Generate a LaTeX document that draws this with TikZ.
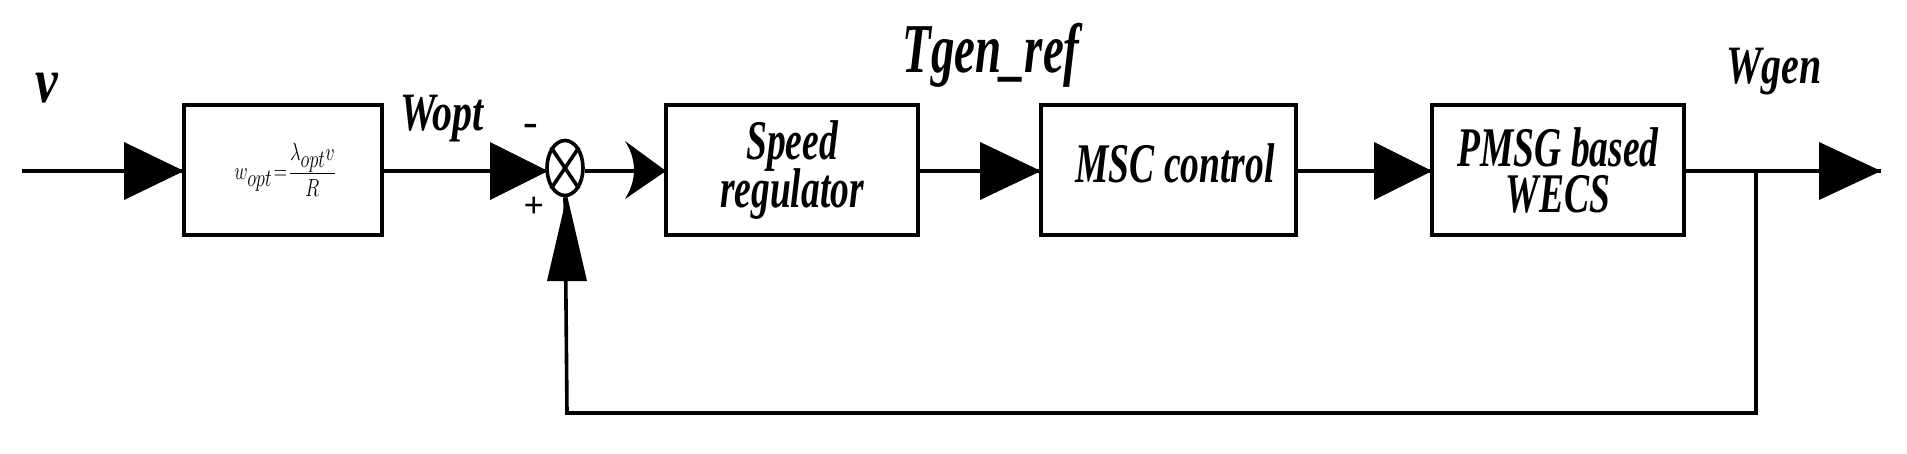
\documentclass[tikz,border=0pt]{standalone}
\usepackage{fontspec}
\setmainfont{Liberation Serif}
\usetikzlibrary{shapes.geometric}
\begin{document}
\begin{tikzpicture}[x=1pt,y=-1pt,line width=3.6pt,
  blk/.style={draw,line width=4pt,inner sep=0,minimum height=130pt,align=center,
    font=\fontsize{56}{50}\selectfont\bfseries\itshape},
  lbl/.style={inner sep=0,font=\bfseries\itshape},
  tri/.style={fill=black,draw=none}]
\useasboundingbox (0,0) rectangle (1907,453);
% blocks
\node[blk,minimum width=198pt] (b1) at (283,170) {};
\node[blk,minimum width=252pt] (b2) at (792,170) {\scalebox{0.67}[1]{Speed}\\[-4pt]\scalebox{0.67}[1]{regulator}};
\node[blk,minimum width=255pt] (b3) at (1168,170) {};
\node[blk,minimum width=252pt] (b4) at (1558,170) {\scalebox{0.67}[1]{PMSG based}\\[-4pt]\scalebox{0.67}[1]{WECS}};
\node[lbl,font=\fontsize{56}{56}\selectfont\bfseries\itshape] (t3) at (1175,163) {\scalebox{0.67}[1]{MSC control}};
\node[inner sep=0,font=\fontsize{44}{44}\selectfont] (f) at (285,170)
  {\scalebox{0.74}[1]{$\displaystyle w_{opt}\!=\!\frac{\lambda_{opt}v}{R}$}};
% sum
\node[draw,ellipse,line width=3.6pt,minimum width=36pt,minimum height=55pt,inner sep=0] (s) at (565,168) {};
\draw (s.north west) -- (s.south east) (s.north east) -- (s.south west);
% coordinates
\coordinate (in) at (22,171);
\coordinate (out) at (1881,171);
\coordinate (br) at (1756,171);
\coordinate (bl) at (1756,413);
\coordinate (bs) at (567,413);
% lines
\draw (in) -- (b1.west|-in);
\draw (b1.east|-in) -- (s.west|-in);
\draw (s.east|-in) -- (b2.west|-in);
\draw (b2.east|-in) -- (b3.west|-in);
\draw (b3.east|-in) -- (b4.west|-in);
\draw (b4.east|-in) -- (out);
\draw (br) -- (bl) -- (bs) -- (s.south);
% arrowheads
\fill[tri] (124,142) -- (184,171) -- (124,200) -- cycle;
\fill[tri] (490,142) -- (548,171) -- (490,200) -- cycle;
\fill[tri] (625,141) -- (666,171) -- (625,199) .. controls (637,180) and (637,160) .. (625,141) -- cycle;
\fill[tri] (980,142) -- (1041,171) -- (980,200) -- cycle;
\fill[tri] (1374,142) -- (1432,171) -- (1374,200) -- cycle;
\fill[tri] (1819,142) -- (1881,171) -- (1819,200) -- cycle;
\fill[tri] (547,281) -- (567,195) -- (587,281) -- cycle;
% labels
\node[lbl,font=\fontsize{64}{64}\selectfont\bfseries\itshape] (lv) at (47,88) {\scalebox{0.8}[1]{v}};
\node[lbl,font=\fontsize{54}{54}\selectfont\bfseries\itshape] (lw) at (442,119) {\scalebox{0.74}[1]{Wopt}};
\node[lbl,font=\fontsize{70}{70}\selectfont\bfseries\itshape] (lt) at (991,55) {\scalebox{0.67}[1]{Tgen\_ref}};
\node[lbl,font=\fontsize{54}{54}\selectfont\bfseries\itshape] (lg) at (1774,72) {\scalebox{0.74}[1]{Wgen}};
\node[lbl,font=\fontsize{40}{40}\selectfont\bfseries] (lm) at (531,130) {\scalebox{1.1}[1]{-}};
\node[lbl,font=\fontsize{36}{36}\selectfont\bfseries\upshape] (lp) at (534,207) {+};
\end{tikzpicture}
\end{document}
